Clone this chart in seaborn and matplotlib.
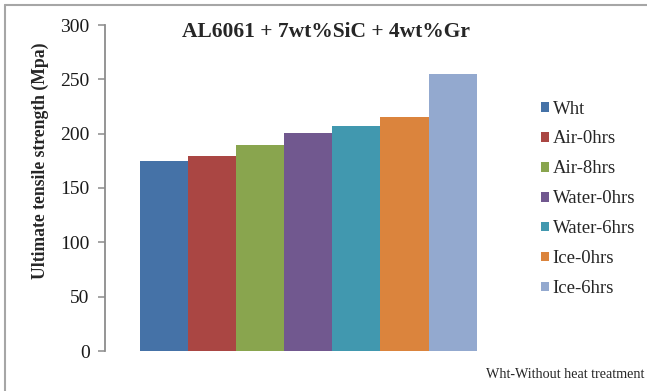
import matplotlib
matplotlib.use("Agg")
import matplotlib.pyplot as plt
import matplotlib.patches as mpatches
from matplotlib.lines import Line2D
import seaborn as sns
import pandas as pd

# Tensile strength of AL6061 + 7wt%SiC + 4wt%Gr under different heat treatments
treatments = ["Wht", "Air-0hrs", "Air-8hrs", "Water-0hrs", "Water-6hrs", "Ice-0hrs", "Ice-6hrs"]
uts_mpa = [175, 179.5, 190, 201, 207, 215, 255]
colors = ["#4572A7", "#AA4643", "#89A54E", "#71588F", "#4198AF", "#DB843D", "#93A9CF"]
yticks = [0, 50, 100, 150, 200, 250, 300]

df = pd.DataFrame({"treatment": treatments, "uts": uts_mpa})

sns.set_theme(style="white")
plt.rcParams["font.family"] = ["Liberation Serif", "DejaVu Serif"]

fig = plt.figure(figsize=(6.47, 3.91), dpi=100)
ax = fig.add_axes([105 / 647, 40 / 391, 406.4 / 647, 326 / 391])

sns.barplot(data=df, x="treatment", y="uts", hue="treatment", palette=colors,
            order=treatments, hue_order=treatments, width=1.0, dodge=False,
            legend=False, ax=ax, saturation=1, linewidth=0)

ax.set_xlim(-0.5 - 0.72, 6.5 + 0.72)
ax.set_ylim(0, 300)
ax.set_yticks(yticks)
ax.set_yticklabels([str(t) for t in yticks], fontsize=14, color="#1a1a1a")
ax.set_xticks([])
ax.set_xlabel("")
ax.set_ylabel("")

for side in ["top", "right", "bottom"]:
    ax.spines[side].set_visible(False)
ax.spines["left"].set_color("#8c8c8c")
ax.spines["left"].set_linewidth(1.3)
ax.tick_params(axis="y", direction="out", length=5, width=1.1, color="#8c8c8c",
               left=True, pad=6)

fig.text(40 / 647, 1 - 161 / 391, "Ultimate tensile strength (Mpa)", rotation=90,
         ha="center", va="center", fontsize=12.7, fontweight="bold")

fig.text(326 / 647, 1 - 32 / 391, "AL6061 + 7wt%SiC + 4wt%Gr", ha="center",
         va="center", fontsize=15.5, fontweight="bold")

handles = [mpatches.Patch(facecolor=c, edgecolor="none") for c in colors]
fig.legend(handles, treatments, loc="upper left",
           bbox_to_anchor=(533 / 647, 1 - 93 / 391), frameon=False,
           fontsize=13.5, handlelength=0.43, handleheight=0.43, handletextpad=0.22,
           labelspacing=0.69, borderaxespad=0)

fig.text(644 / 647, 1 - 374 / 391, "Wht-Without heat treatment", ha="right",
         va="center", fontsize=10.2)

# chart-area border
fig.add_artist(Line2D([4.5 / 647, 1], [1 - 4.5 / 391, 1 - 4.5 / 391],
                      transform=fig.transFigure, color="#a6a6a6", lw=1.5))
fig.add_artist(Line2D([4.5 / 647, 4.5 / 647], [0, 1 - 4.5 / 391],
                      transform=fig.transFigure, color="#a6a6a6", lw=1.5))

fig.savefig("out.png", dpi=100)
